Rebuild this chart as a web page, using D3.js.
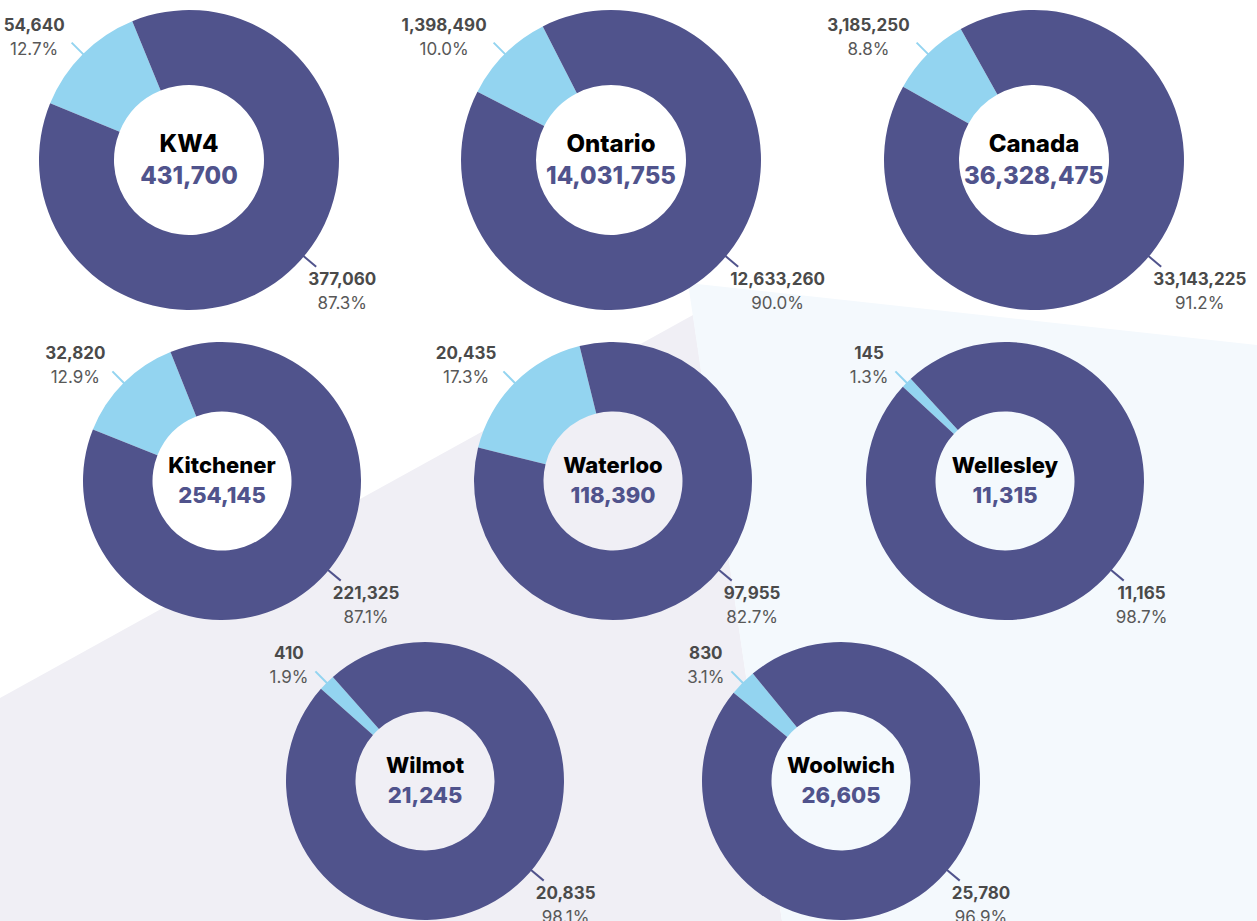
<!DOCTYPE html>
<html>
<head>
<meta charset="utf-8">
<script src="https://cdn.jsdelivr.net/npm/d3@7"></script>
<style>
  body { margin: 0; background: #fff; }
  svg { display: block; font-family: Inter, "Open Sans", sans-serif; }
</style>
</head>
<body>
<div id="donuts"></div>
<script>
const places = ["KW4", "Ontario", "Canada", "Kitchener", "Waterloo", "Wellesley", "Wilmot", "Woolwich"];
const totals = [431700, 14031755, 36328475, 254145, 118390, 11315, 21245, 26605];
const lightValues = [54640, 1398490, 3185250, 32820, 20435, 145, 410, 830];
const darkValues = [377060, 12633260, 33143225, 221325, 97955, 11165, 20835, 25780];

const width = 1257, height = 921;

// where each donut sits: [center x, row]
const spots = [[189, 0], [611, 0], [1034, 0], [222, 1], [613, 1], [1005, 1], [425, 2], [841, 2]];
const rows = [
    {cy: 160, r: 150, font: 24, valueDy: 24},
    {cy: 481, r: 139, font: 22, valueDy: 22},
    {cy: 781, r: 139, font: 22, valueDy: 22}
];

const color = d3.scaleOrdinal()
    .domain(["light", "dark"])
    .range(["#93d4f0", "#50538c"]);

const fmt = d3.format(",");
const pct = d3.format(".1%");

const svg = d3.select("#donuts")
    .append("svg")
    .attr("width", width)
    .attr("height", height);

// soft background panels
svg.append("path")
    .attr("d", "M0,698L693,315L782,921L0,921Z")
    .attr("fill", "#f0eff5");
svg.append("path")
    .attr("d", "M688,283L1257,345L1257,921L782,921Z")
    .attr("fill", "#f4f9fd");

const polar = (a, rho) => [rho * Math.sin(a), -rho * Math.cos(a)];

places.forEach((name, i) => {
    const row = rows[spots[i][1]];
    const r = row.r;
    const g = svg.append("g")
        .attr("transform", `translate(${spots[i][0]},${row.cy})`);

    const parts = [
        {key: "light", value: lightValues[i]},
        {key: "dark", value: darkValues[i]}
    ];
    const frac = lightValues[i] / (lightValues[i] + darkValues[i]);
    // light slice is centred on the upper-left diagonal
    const start = -Math.PI / 4 - frac * Math.PI;
    const pie = d3.pie()
        .sort(null)
        .value(d => d.value)
        .startAngle(start)
        .endAngle(start + 2 * Math.PI);
    const arcs = pie(parts);

    const arc = d3.arc()
        .innerRadius(r / 2)
        .outerRadius(r);

    g.selectAll("path.slice")
        .data(arcs)
        .join("path")
        .attr("class", "slice")
        .attr("d", arc)
        .attr("fill", d => color(d.data.key));

    // centre text
    g.append("text")
        .attr("text-anchor", "middle")
        .attr("y", -8)
        .attr("font-size", row.font)
        .attr("font-weight", 800)
        .attr("fill", "#000")
        .text(name);
    g.append("text")
        .attr("text-anchor", "middle")
        .attr("y", row.valueDy)
        .attr("font-size", row.font)
        .attr("font-weight", 800)
        .attr("fill", "#50538c")
        .text(fmt(totals[i]));

    // leader lines + outside labels
    arcs.forEach(a => {
        const isLight = a.data.key === "light";
        let ang = (a.startAngle + a.endAngle) / 2;
        if (!isLight) ang -= 5 * Math.PI / 180;
        const p0 = polar(ang, r - 1);
        const p1 = polar(ang, r + 16);
        g.append("line")
            .attr("x1", p0[0]).attr("y1", p0[1])
            .attr("x2", p1[0]).attr("y2", p1[1])
            .attr("stroke", color(a.data.key))
            .attr("stroke-width", 2);

        const mid = isLight ? p1[1] - 6 : p1[1] + 24;
        const lab = g.append("g");
        const v = lab.append("text")
            .attr("text-anchor", "middle")
            .attr("y", mid - 12 + 6)
            .attr("font-size", 17)
            .attr("font-weight", 700)
            .attr("fill", "#4a4a4a")
            .text(fmt(a.data.value));
        const p = lab.append("text")
            .attr("text-anchor", "middle")
            .attr("y", mid + 12 + 6)
            .attr("font-size", 17)
            .attr("fill", "#585858")
            .text(pct(a.data.value / totals[i]));
        const w = Math.max(v.node().getComputedTextLength(), p.node().getComputedTextLength());
        const cx = isLight ? p1[0] - 7 - w / 2 : p1[0] - 8 + w / 2;
        v.attr("x", cx);
        p.attr("x", cx);
    });
});
</script>
</body>
</html>
